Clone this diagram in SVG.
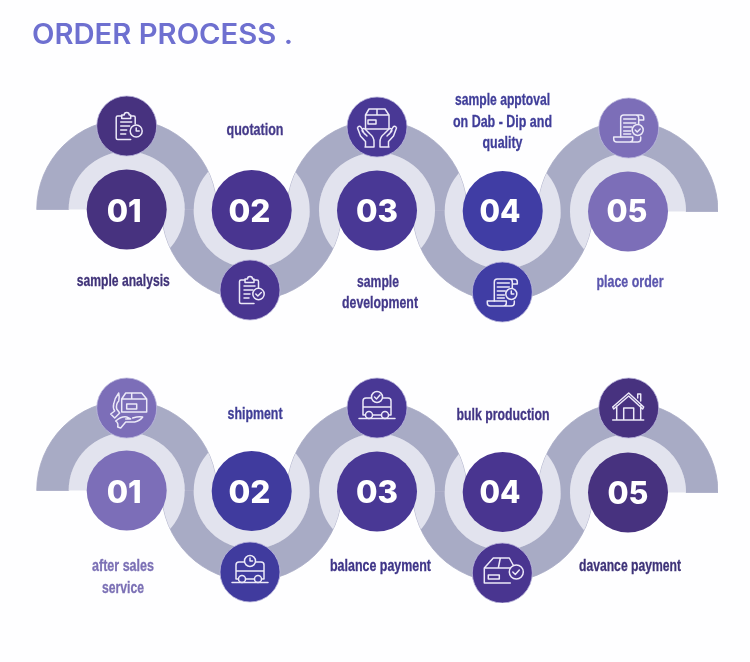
<svg xmlns="http://www.w3.org/2000/svg" width="750" height="662" viewBox="0 0 750 662">
<style>
.band{fill:#a8abc5;stroke:#a8abc5;stroke-width:.8}
.halo{fill:#e2e3ee}
.ic{fill:none;stroke:#ece9f8;stroke-width:1.5;stroke-linecap:round;stroke-linejoin:round}
.pale{stroke:#bdb9dd;stroke-width:.8}
.num{font-family:"Inter","Liberation Sans",sans-serif;font-weight:800;font-size:31px;fill:#fff;text-anchor:middle}
.lb{font-family:"Liberation Sans",Arial,sans-serif;font-weight:700;font-size:16.500px;text-anchor:middle;stroke:currentColor;stroke-width:.3}
.title{font-family:"Inter","Liberation Sans",sans-serif;font-weight:600;font-size:28px;fill:#6e6fd0}
.c1{fill:#46307f}.c2{fill:#4a3490}.c3{fill:#483795}.c4{fill:#3f3ca4}.c5{fill:#7b6eb8}.c6{fill:#3f3a9e}
</style>
<defs>
<filter id="soft" x="0" y="0" width="100%" height="100%"><feGaussianBlur stdDeviation="0.35"/></filter>
<clipPath id="clip1"><rect x="0" y="0" width="750" height="209.5"/><circle cx="251.700" cy="210" r="90"/></clipPath>
<clipPath id="clip2"><rect x="0" y="210" width="750" height="200"/><circle cx="126.700" cy="209.500" r="90"/><circle cx="377" cy="210.500" r="90"/></clipPath>
<clipPath id="clip3"><rect x="0" y="0" width="750" height="210.500"/><circle cx="251.700" cy="210" r="90"/><circle cx="502.700" cy="211" r="90"/></clipPath>
<clipPath id="clip4"><rect x="0" y="211" width="750" height="200"/><circle cx="377" cy="210.500" r="90"/><circle cx="628" cy="211.500" r="90"/></clipPath>
<clipPath id="clip5"><rect x="0" y="0" width="750" height="211.500"/><circle cx="502.700" cy="211" r="90"/></clipPath>
<g id="clipboard"><path d="M-5-10H-9a1.500 1.500 0 0 0-1.500 1.500V12a1.500 1.500 0 0 0 1.500 1.500H4M8.500-2V-8.500A1.500 1.500 0 0 0 7-10H4"/><path d="M-5-7.500V-11H-2.500a2.500 2.500 0 0 1 5 0H4V-7.500Z"/><path d="M-6-4H5M-6 0H3M-6 4H0M-6 8H-1"/></g>
<g id="scroll"><path d="M-8 9V-10a3 3 0 0 1 3-3H12a3 3 0 0 1 3 3v2H10V-10a3 3 0 0 0-3-3M10-8V-4"/><path d="M-15 9H4v2a3 3 0 0 1-3 3H-12a3 3 0 0 1-3-3ZM1 14H9a3 3 0 0 0 3-3V9"/><path d="M-5-9H7M-5-5H7M-5-1H3M-5 3H2M-5 6H2"/></g>
<g id="van"><path d="M-4 7H4M-12 7H-14V-7a3 3 0 0 1 3-3H11a3 3 0 0 1 3 3V7H12M-14-1H14M-18 10.500H18"/><circle cx="-8" cy="7" r="3.500"/><circle cx="8" cy="7" r="3.500"/></g>
<g id="hand"><path d="M-19 0q2-2 3.500 1l3 6M-19.500 1l3 8 5 5.500v5.500M-12 20H-3V15q0-5-4-8l-5-5q-1.500-1-2.500 0t0 2.500L-10 9"/></g>
</defs>
<rect width="750" height="662" fill="#fefeff"/>
<g filter="url(#soft)">
<text class="title" x="32" y="44" textLength="261" lengthAdjust="spacingAndGlyphs">ORDER PROCESS .</text>

<g id="connectors">
<path class="band" d="M36.700 209.500A90 90 0 0 1 216.700 209.500H184.700A58 58 0 0 0 68.700 209.500Z"/>
<path class="band" d="M161.700 210A90 90 0 0 0 341.700 210H309.700A58 58 0 0 1 193.700 210Z"/>
<path class="band" d="M287 210.500A90 90 0 0 1 467 210.500H435A58 58 0 0 0 319 210.500Z"/>
<path class="band" d="M412.700 211A90 90 0 0 0 592.700 211H560.700A58 58 0 0 1 444.700 211Z"/>
<path class="band" d="M538 211.500A90 90 0 0 1 718 211.500H686A58 58 0 0 0 570 211.500Z"/>
<g transform="translate(0,281)">
<path class="band" d="M36.700 209.500A90 90 0 0 1 216.700 209.500H184.700A58 58 0 0 0 68.700 209.500Z"/>
<path class="band" d="M161.700 210A90 90 0 0 0 341.700 210H309.700A58 58 0 0 1 193.700 210Z"/>
<path class="band" d="M287 210.500A90 90 0 0 1 467 210.500H435A58 58 0 0 0 319 210.500Z"/>
<path class="band" d="M412.700 211A90 90 0 0 0 592.700 211H560.700A58 58 0 0 1 444.700 211Z"/>
<path class="band" d="M538 211.500A90 90 0 0 1 718 211.500H686A58 58 0 0 0 570 211.500Z"/>
</g>
</g>

<g id="row1">
<g id="r1-step1">
<circle class="halo" cx="126.700" cy="209.500" r="58" clip-path="url(#clip1)"/>
<circle class="c1" cx="126.700" cy="209.500" r="40"/>
<text class="num" x="124.200" y="221.500" textLength="35" lengthAdjust="spacingAndGlyphs">01</text>
<circle class="c1 pale" cx="126.700" cy="126" r="30"/>
<g class="ic" transform="translate(126.700,126)"><use href="#clipboard"/><circle cx="9.500" cy="5" r="6" fill="#46307f"/><path d="M9.500 2V5H12.500"/></g>
<text class="lb" x="123.300" y="286" textLength="93" lengthAdjust="spacingAndGlyphs" fill="#3f3278" color="#3f3278">sample analysis</text>
</g>
<g id="r1-step2">
<circle class="halo" cx="251.700" cy="210" r="58" clip-path="url(#clip2)"/>
<circle class="c2" cx="251.700" cy="210" r="40"/>
<text class="num" x="249.500" y="222" textLength="42" lengthAdjust="spacingAndGlyphs">02</text>
<circle class="c2 pale" cx="250" cy="290" r="30"/>
<g class="ic" transform="translate(250,290)"><use href="#clipboard"/><circle cx="8.500" cy="4" r="5.700" fill="#4a3490"/><path d="M5.800 4l2 2 3.500-3.500"/></g>
<text class="lb" x="255" y="135" textLength="57" lengthAdjust="spacingAndGlyphs" fill="#453a8a" color="#453a8a">quotation</text>
</g>
<g id="r1-step3">
<circle class="halo" cx="377" cy="210.500" r="58" clip-path="url(#clip3)"/>
<circle class="c3" cx="377" cy="210.500" r="40"/>
<text class="num" x="377" y="222" textLength="42" lengthAdjust="spacingAndGlyphs">03</text>
<circle class="c3 pale" cx="377" cy="127" r="30"/>
<g class="ic" transform="translate(377,127)"><path d="M-11.500-12-8-18H8L12-12V2H-11.500ZM-11.500-12H12M0-18V-12M-9-7H-1V-3H-9Z"/><use href="#hand"/><use href="#hand" transform="scale(-1,1)"/></g>
<text class="lb" x="378" y="287" textLength="42" lengthAdjust="spacingAndGlyphs" fill="#43388a" color="#43388a">sample</text>
<text class="lb" x="380" y="308" textLength="76" lengthAdjust="spacingAndGlyphs" fill="#43388a" color="#43388a">development</text>
</g>
<g id="r1-step4">
<circle class="halo" cx="502.700" cy="211" r="58" clip-path="url(#clip4)"/>
<circle class="c4" cx="502.700" cy="211" r="40"/>
<text class="num" x="500" y="222" textLength="41" lengthAdjust="spacingAndGlyphs">04</text>
<circle class="c4 pale" cx="502.300" cy="292" r="30"/>
<g class="ic" transform="translate(502.300,292)"><use href="#scroll"/><circle cx="9" cy="2" r="5.500" fill="#3f3ca4"/><path d="M9-1V2H11.500"/></g>
<text class="lb" x="502.500" y="105" textLength="95" lengthAdjust="spacingAndGlyphs" fill="#3f3d99" color="#3f3d99">sample apptoval</text>
<text class="lb" x="502.500" y="127" textLength="99" lengthAdjust="spacingAndGlyphs" fill="#3f3d99" color="#3f3d99">on Dab - Dip and</text>
<text class="lb" x="502.500" y="148" textLength="40" lengthAdjust="spacingAndGlyphs" fill="#3f3d99" color="#3f3d99">quality</text>
</g>
<g id="r1-step5">
<circle class="halo" cx="628" cy="211.500" r="58" clip-path="url(#clip5)"/>
<circle class="c5" cx="628" cy="211.500" r="40"/>
<text class="num" x="627" y="222" textLength="41" lengthAdjust="spacingAndGlyphs">05</text>
<circle class="c5 pale" cx="628.700" cy="128" r="30"/>
<g class="ic" transform="translate(628.700,128)"><use href="#scroll"/><circle cx="9" cy="2" r="5.500" fill="#7b6eb8"/><path d="M6.500 2l2 2 3-3"/></g>
<text class="lb" x="630" y="287" textLength="67" lengthAdjust="spacingAndGlyphs" fill="#5b56ae" color="#5b56ae">place order</text>
</g>
</g>

<g id="row2" transform="translate(0,281)">
<g id="r2-step1">
<circle class="halo" cx="126.700" cy="209.500" r="58" clip-path="url(#clip1)"/>
<circle class="c5" cx="126.700" cy="209.500" r="40"/>
<text class="num" x="124.200" y="221.500" textLength="35" lengthAdjust="spacingAndGlyphs">01</text>
<circle class="c5 pale" cx="126.700" cy="127" r="30"/>
<g class="ic" transform="translate(126.700,127)"><path d="M-5-9-1-15H15L20-9V4H-5ZM-5-9H20M5-15V-9M0-4H10V1H0Z"/><path d="M-8-15q-4 5-5 11-1 4 1 7l-4 3 4 4 5-5-3-4q-1-5 2-8 1-4 0-8ZM-11 13q6-5 11-4l4 2H-1M-11 13q3 2 2 6l3 1 5-6H8q5-1 8-5-4-1-10 1"/></g>
<text class="lb" x="123" y="290" textLength="62" lengthAdjust="spacingAndGlyphs" fill="#7b70b5" color="#7b70b5">after sales</text>
<text class="lb" x="123" y="312" textLength="42" lengthAdjust="spacingAndGlyphs" fill="#7b70b5" color="#7b70b5">service</text>
</g>
<g id="r2-step2">
<circle class="halo" cx="251.700" cy="210" r="58" clip-path="url(#clip2)"/>
<circle class="c6" cx="251.700" cy="210" r="40"/>
<text class="num" x="249.500" y="222" textLength="42" lengthAdjust="spacingAndGlyphs">02</text>
<circle class="c6 pale" cx="250" cy="291" r="30"/>
<g class="ic" transform="translate(250,291)"><use href="#van"/><circle cx="0" cy="-11" r="5.500" fill="#3f3a9e"/><path d="M0-14V-11H2.500"/></g>
<text class="lb" x="255" y="138" textLength="55" lengthAdjust="spacingAndGlyphs" fill="#3f3d96" color="#3f3d96">shipment</text>
</g>
<g id="r2-step3">
<circle class="halo" cx="377" cy="210.500" r="58" clip-path="url(#clip3)"/>
<circle class="c3" cx="377" cy="210.500" r="40"/>
<text class="num" x="377" y="222" textLength="42" lengthAdjust="spacingAndGlyphs">03</text>
<circle class="c3 pale" cx="377" cy="127" r="30"/>
<g class="ic" transform="translate(377,127)"><use href="#van"/><circle cx="0" cy="-11" r="5.500" fill="#483795"/><path d="M-2.500-11l2 2 3.500-4"/></g>
<text class="lb" x="380.500" y="290" textLength="101" lengthAdjust="spacingAndGlyphs" fill="#3e3488" color="#3e3488">balance payment</text>
</g>
<g id="r2-step4">
<circle class="halo" cx="502.700" cy="211" r="58" clip-path="url(#clip4)"/>
<circle class="c2" cx="502.700" cy="211" r="40"/>
<text class="num" x="500" y="222" textLength="41" lengthAdjust="spacingAndGlyphs">04</text>
<circle class="c2 pale" cx="502.300" cy="292" r="30"/>
<g class="ic" transform="translate(502.300,292)"><path d="M-18-5-9-15H7L12-6M-18-5H10M-18-5V10H8M-2-15-4-5M-14 2H-3V6H-14Z"/><circle cx="14" cy="-1" r="7" fill="#4a3490"/><path d="M10.500-1l2.500 2.500 4-4.500"/></g>
<text class="lb" x="503" y="139" textLength="93" lengthAdjust="spacingAndGlyphs" fill="#423585" color="#423585">bulk production</text>
</g>
<g id="r2-step5">
<circle class="halo" cx="628" cy="211.500" r="58" clip-path="url(#clip5)"/>
<circle class="c1" cx="628" cy="211.500" r="40"/>
<text class="num" x="628" y="223" textLength="41" lengthAdjust="spacingAndGlyphs">05</text>
<circle class="c1 pale" cx="628.700" cy="127" r="30"/>
<g class="ic" transform="translate(628.700,127)"><path d="M-16-1 0-15 15-1M-16-1-15 1 0-12 14 1 15-1M-12-2V12M12-2V12M-16 12H15M-5 12V0H5V12M9-10V-14H12V-7"/></g>
<text class="lb" x="630" y="290" textLength="102" lengthAdjust="spacingAndGlyphs" fill="#3e3278" color="#3e3278">davance payment</text>
</g>
</g>
</g>
</svg>
